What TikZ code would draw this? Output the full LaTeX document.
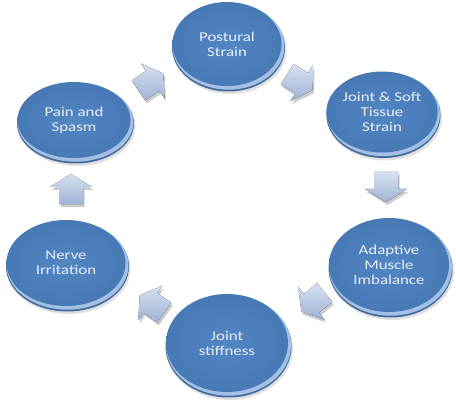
\documentclass[tikz,border=0pt]{standalone}
\usepackage{fontspec}
\setmainfont{Carlito}[FakeStretch=1.25]
\usetikzlibrary{shapes.geometric}
\definecolor{discin}{HTML}{5287C3}
\definecolor{discout}{HTML}{4779B5}
\definecolor{discside}{HTML}{3E6A9E}
\definecolor{discrim}{HTML}{A3C0E4}
\definecolor{disctext}{HTML}{E9EFF8}
\definecolor{arrlight}{HTML}{D6E0F0}
\definecolor{arrdark}{HTML}{A0B4D6}
\tikzset{
  disc/.style={ellipse, inner sep=0pt, shading=radial, inner color=discin, outer color=discout,
    text=disctext, align=center, font=\fontsize{13.5}{15}\selectfont},
  barrowfill/.style={shading=axis, top color=arrlight, bottom color=arrdark},
  barrowshadow/.style={fill=black, opacity=0.2}
}
\newcommand{\mydisc}[6]{%
  \fill[black,opacity=0.12] (#2+2,#3+5) ellipse [x radius=#4pt, y radius=#5pt];
  \fill[discside] (#2+0.5,#3+2.5) ellipse [x radius=#4pt, y radius=#5pt];
  \fill[discrim] (#2+0.5,#3+1.2) ellipse [x radius=#4pt-0.5pt, y radius=#5pt-0.5pt];
  \node[disc, minimum width=2*#4pt-4pt, minimum height=2*#5pt-4pt] (#1) at (#2-1,#3-1) {#6};
}
\newcommand{\arrowpath}{(-15,-12) -- (2,-12) -- (2,-21) -- (15,0) -- (2,21) -- (2,12) -- (-15,12) -- cycle}
\newcommand{\myarrow}[4]{%
  \begin{scope}[shift={(#2+1.5,#3+3)}, rotate=#4]
    \fill[barrowshadow] \arrowpath;
  \end{scope}
  \begin{scope}[shift={(#2,#3)}, rotate=#4]
    \fill[barrowfill] \arrowpath;
    \coordinate (#1) at (0,0);
  \end{scope}
}
\begin{document}
\begin{tikzpicture}[x=1pt,y=-1pt]
\useasboundingbox (0,0) rectangle (456,412);
\mydisc{post}{228}{45}{56.5}{44}{Postural\\Strain}
\mydisc{joint}{383}{113}{57}{42.5}{Joint \& Soft\\Tissue\\Strain}
\mydisc{adapt}{390}{266}{62}{49}{Adaptive\\Muscle\\Imbalance}
\mydisc{stiff}{228}{344}{63}{51}{Joint\\stiffness}
\mydisc{nerve}{67}{264}{61.5}{45}{Nerve\\Irritation}
\mydisc{pain}{75}{121}{58.5}{40}{Pain and\\Spasm}
\myarrow{a1}{151}{82}{34}
\myarrow{a2}{300}{82}{-32}
\myarrow{a3}{386}{187}{-90}
\myarrow{a4}{313}{302}{-141}
\myarrow{a5}{152}{304}{145}
\myarrow{a6}{71}{189}{90}
\end{tikzpicture}
\end{document}
